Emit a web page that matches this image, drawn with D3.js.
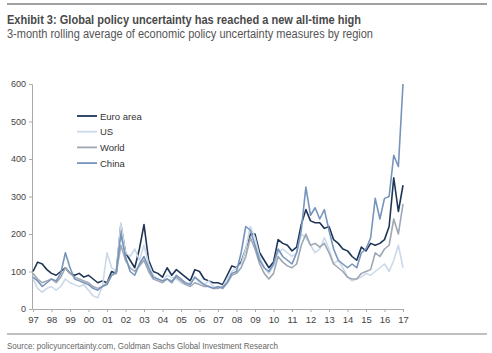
<!DOCTYPE html>
<html>
<head>
<meta charset="utf-8">
<script src="https://cdn.jsdelivr.net/npm/d3@7"></script>
<style>
  body { margin: 0; background: #fff; }
  svg { display: block; }
  text { font-family: "Liberation Sans Narrow", "Arial Narrow", "Liberation Sans", sans-serif; }
</style>
</head>
<body>
<script>
// quarterly points, 1997 Q1 .. 2016 Q4, plus Jan 2017
const years = d3.range(1997, 2017.01, 0.25);
const yearLabels = ["97","98","99","00","01","02","03","04","05","06","07","08","09","10","11","12","13","14","15","16","17"];
const yTicks = [0, 100, 200, 300, 400, 500, 600];

const euroArea = [100,125,120,105, 95,90,100,110, 95,90,95,85, 90,80,70,75, 70,100,95,225,
  150,130,110,160, 225,130,100,95, 85,110,90,105, 95,85,75,105, 100,80,75,70,
  70,65,90,115, 110,125,160,200, 200,150,130,110, 125,185,175,170, 155,165,225,265,
  235,230,230,215, 220,185,175,160, 155,140,130,165, 155,175,170,175, 185,220,350,260, 330];
const us = [80,55,45,55, 60,50,60,80, 70,65,60,65, 50,35,30,60, 150,110,100,230,
  150,140,160,130, 170,120,90,80, 75,90,85,80, 70,65,70,85, 70,65,75,60,
  55,60,80,100, 110,120,160,220, 190,140,110,95, 115,150,160,150, 140,150,200,190,
  170,150,160,190, 160,120,130,110, 85,75,80,85, 95,90,100,110, 120,100,130,170, 110];
const world = [95,80,70,75, 80,70,85,110, 95,85,80,75, 70,60,55,60, 70,90,95,170,
  130,110,100,115, 130,100,80,75, 70,80,75,85, 75,65,60,70, 65,60,60,55,
  55,60,70,90, 95,110,140,190, 160,120,95,80, 95,140,125,115, 110,120,170,200,
  170,175,165,175, 150,120,110,100, 85,80,80,95, 100,105,150,140, 160,170,240,200, 280];
const china = [85,75,60,70, 80,75,95,150, 110,80,75,70, 65,55,50,60, 65,90,100,200,
  140,100,90,120, 140,110,85,80, 75,80,70,90, 80,70,65,85, 75,65,60,55,
  60,55,70,95, 100,150,220,210, 170,130,110,100, 120,160,140,130, 120,150,210,325,
  250,270,240,265, 210,160,130,120, 110,120,110,150, 160,190,295,240, 295,300,410,380, 600];

const seriesNames = ["Euro area", "US", "World", "China"];
const seriesColors = ["#1e3555", "#c9d9ea", "#9ea7b3", "#7794bb"];
const seriesValues = [euroArea, us, world, china];

const W = 492, H = 353;
const svg = d3.select("body").append("svg").attr("width", W).attr("height", H);

// header
svg.append("line").attr("x1", 7).attr("x2", 487).attr("y1", 4).attr("y2", 4)
  .attr("stroke", "#808080").attr("stroke-width", 1.5);
svg.append("text").attr("x", 7).attr("y", 24)
  .attr("font-size", 13.5).attr("font-weight", "bold").attr("fill", "#4a4a4a")
  .attr("textLength", 354).attr("lengthAdjust", "spacingAndGlyphs")
  .text("Exhibit 3: Global policy uncertainty has reached a new all-time high");
svg.append("text").attr("x", 7).attr("y", 38)
  .attr("font-size", 12).attr("fill", "#555")
  .attr("textLength", 366).attr("lengthAdjust", "spacingAndGlyphs")
  .text("3-month rolling average of economic policy uncertainty measures by region");

// scales
const x = d3.scaleLinear().domain([1997, 2017]).range([33, 403]);
const y = d3.scaleLinear().domain([0, 600]).range([309, 84]);

// y axis
const yAxis = svg.append("g").attr("transform", "translate(32,0)")
  .call(d3.axisLeft(y).tickValues(yTicks).tickSize(3).tickPadding(3));
yAxis.select(".domain").attr("stroke", "#aaa");
yAxis.selectAll(".tick line").attr("stroke", "#aaa");
yAxis.selectAll("text").attr("font-size", 9).attr("fill", "#444")
  .attr("font-family", "Liberation Sans, sans-serif");

// x axis
const xAxis = svg.append("g").attr("transform", "translate(0,309)")
  .call(d3.axisBottom(x).tickValues(d3.range(1997, 2018)).tickFormat((d, i) => yearLabels[i])
    .tickSize(3).tickPadding(4));
xAxis.select(".domain").attr("stroke", "#aaa");
xAxis.selectAll(".tick line").attr("stroke", "#aaa");
xAxis.selectAll("text").attr("font-size", 9.5).attr("fill", "#444")
  .attr("font-family", "Liberation Sans, sans-serif");

// lines
const line = d3.line().x((d, i) => x(years[i])).y(d => y(d));
seriesValues.forEach((vals, k) => {
  svg.append("path").datum(vals)
    .attr("d", line)
    .attr("fill", "none")
    .attr("stroke", seriesColors[k])
    .attr("stroke-width", 1.6)
    .attr("stroke-linejoin", "round");
});

// legend
const legend = svg.append("g");
seriesNames.forEach((name, k) => {
  const ly = 116 + k * 15.7;
  legend.append("line").attr("x1", 77).attr("x2", 97).attr("y1", ly).attr("y2", ly)
    .attr("stroke", seriesColors[k]).attr("stroke-width", 1.8);
  legend.append("text").attr("x", 100).attr("y", ly + 3.5)
    .attr("font-size", 9.5).attr("fill", "#333")
    .attr("font-family", "Liberation Sans, sans-serif")
    .text(name);
});

// footer
svg.append("line").attr("x1", 7).attr("x2", 487).attr("y1", 334).attr("y2", 334)
  .attr("stroke", "#808080").attr("stroke-width", 1);
svg.append("text").attr("x", 7).attr("y", 349)
  .attr("font-size", 9).attr("fill", "#666")
  .attr("textLength", 271).attr("lengthAdjust", "spacingAndGlyphs")
  .text("Source: policyuncertainty.com, Goldman Sachs Global Investment Research");
</script>
</body>
</html>
